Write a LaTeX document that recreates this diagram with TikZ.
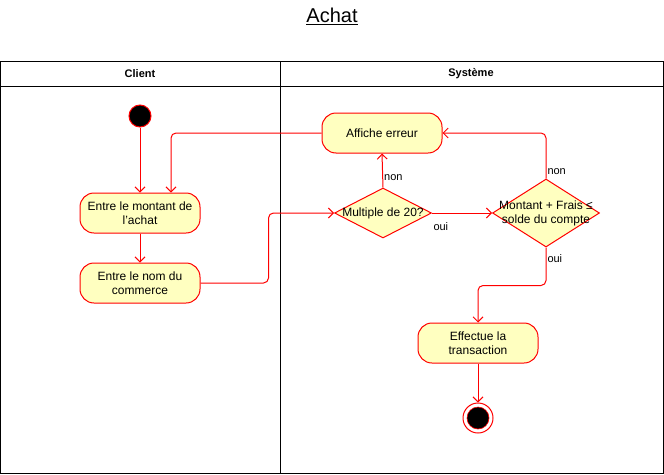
\documentclass[tikz,border=0pt]{standalone}
\usepackage{fontspec}
\setmainfont{Liberation Sans}
\usetikzlibrary{shapes.geometric,arrows.meta}
\definecolor{actfill}{HTML}{FFFFC0}
\definecolor{actline}{HTML}{FF0000}
\tikzset{
  action/.style={draw=actline, fill=actfill, line width=1pt, rounded corners=14pt,
    minimum width=120pt, minimum height=40pt, inner sep=0pt, align=center,
    font=\fontsize{12}{14}\selectfont},
  decision/.style={draw=actline, fill=actfill, line width=1pt, diamond, inner sep=0pt},
  flow/.style={draw=actline, line width=1pt, rounded corners=5pt,
    -{Straight Barb[length=5pt,width=10pt]}},
  guard/.style={font=\fontsize{11}{13}\selectfont, inner sep=1pt},
  lane/.style={font=\bfseries\fontsize{11}{13}\selectfont}
}
\begin{document}
\begin{tikzpicture}[x=1pt, y=-1pt]
\useasboundingbox (0,0) rectangle (664,474);

\node[font=\fontsize{20}{24}\selectfont] (title) at (332,16) {\underline{Achat}};

\draw[line width=1pt] (0.5,61) rectangle (663.5,473.5);
\draw[line width=1pt] (0.5,86) -- (663.5,86);
\draw[line width=1pt] (280,61) -- (280,473.5);
\node[lane] (client) at (140,74) {Client};
\node[lane] (systeme) at (471,74) {Système};

\node[circle, fill=black, draw=actline, line width=1pt, minimum size=22pt, inner sep=0pt] (start) at (140,116) {};
\node[action] (montant) at (140,213) {Entre le montant de\\l'achat};
\node[action] (nom) at (140,283) {Entre le nom du\\commerce};
\node[action] (erreur) at (382,133) {Affiche erreur};
\node[decision, minimum width=97pt, minimum height=50pt,
  label={[font=\fontsize{12}{14}\selectfont]center:Multiple de 20?}] (multiple) at (383,213) {};
\node[decision, minimum width=107pt, minimum height=68pt,
  label={[font=\fontsize{12}{14}\selectfont, align=center]center:Montant + Frais ≤\\solde du compte}] (solde) at (546,213) {};
\node[action] (effectue) at (478,343) {Effectue la\\transaction};
\node[circle, draw=actline, fill=white, line width=1pt, minimum size=30pt, inner sep=0pt] (stop) at (478,418) {};
\node[circle, fill=black, draw=actline, line width=0.6pt, minimum size=22pt, inner sep=0pt] (stopdot) at (stop) {};

\draw[flow] (start) -- (montant);
\draw[flow] (erreur.west) -| ([xshift=31pt]montant.north);
\draw[flow] (montant) -- (nom);
\draw[flow] (nom.east) -- ++(68,0) |- (multiple.west);
\draw[flow] (multiple.north) -- node[guard, pos=0.3, anchor=west] {non} (erreur.south);
\draw[flow] (multiple.east) -- node[guard, pos=0, anchor=north west, yshift=-8pt] {oui} (solde.west);
\draw[flow] (solde.north) node[guard, anchor=south west, yshift=2pt] {non} |- (erreur.east);
\draw[flow] (solde.south) node[guard, anchor=north west, yshift=-6pt] {oui} -- ++(0,38) -| (effectue.north);
\draw[flow] (effectue) -- (stop);

\end{tikzpicture}
\end{document}
